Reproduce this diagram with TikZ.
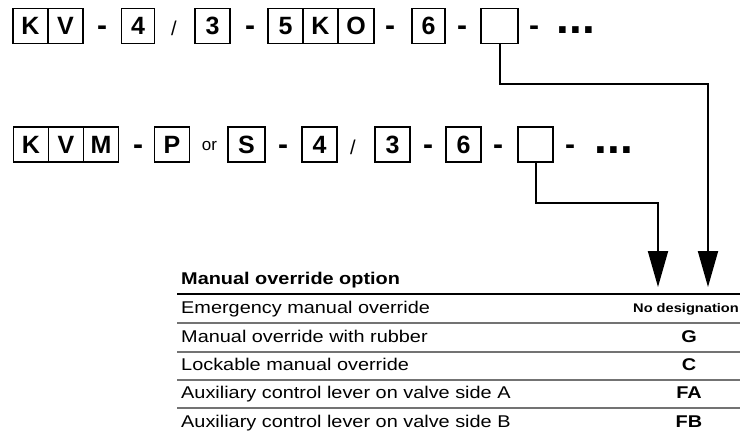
\documentclass[tikz,border=0pt]{standalone}
\usepackage{fontspec}
\setmainfont{Liberation Sans}
\newfontfamily\tabfont[FakeStretch=1.17]{Liberation Sans}
\usetikzlibrary{arrows.meta}
\begin{document}
\begin{tikzpicture}[x=1pt,y=-1pt,
  cell/.style={draw, line width=1.8pt, minimum width=35pt, minimum height=35pt, inner sep=0pt,
    font=\fontsize{25}{28}\selectfont\bfseries},
  hy/.style={anchor=base, inner sep=0pt, font=\fontsize{30}{32}\selectfont\bfseries},
  dots/.style={anchor=base, inner sep=0pt, font=\fontsize{46}{50}\selectfont\bfseries},
  slash/.style={anchor=base, inner sep=0pt, font=\fontsize{20}{22}\selectfont},
  small/.style={anchor=base, inner sep=0pt, font=\fontsize{17}{20}\selectfont},
  conn/.style={line width=2pt, line join=miter, -{Triangle[length=36pt,width=20pt]}},
  thead/.style={anchor=base west, inner sep=0pt, font=\tabfont\fontsize{17}{20}\selectfont\bfseries},
  trow/.style={anchor=base west, inner sep=0pt, font=\tabfont\fontsize{17}{20}\selectfont},
  tcode/.style={anchor=base, inner sep=0pt, font=\tabfont\fontsize{17}{20}\selectfont\bfseries},
  tcodes/.style={anchor=base, inner sep=0pt, font=\tabfont\fontsize{12.5}{15}\selectfont\bfseries},
  rule/.style={line width=2pt},
  grule/.style={line width=1.2pt, draw=black!55}
]
\fill[white] (0,0) rectangle (740,432);
\useasboundingbox (0,0) rectangle (740,432);

% ---------- Row 1 ----------
\node[cell] (a1) at (30.5,26) {K};
\node[cell] (a2) at (65.5,26) {V};
\node[hy] (ad1) at (102,35.5) {-};
\node[cell, minimum width=33pt] (a3) at (138,26) {4};
\node[slash] (as1) at (174,35) {/};
\node[cell] (a4) at (212.5,26) {3};
\node[hy] (ad2) at (250,35.5) {-};
\node[cell] (a5) at (285.5,26) {5};
\node[cell] (a6) at (320.5,26) {K};
\node[cell, minimum width=36pt] (a7) at (356,26) {O};
\node[hy] (ad3) at (390,35.5) {-};
\node[cell, minimum width=33pt] (a8) at (428.5,26) {6};
\node[hy] (ad4) at (462,35.5) {-};
\node[cell, minimum width=37pt] (e1) at (499.5,26) {};
\node[hy] (ad5) at (534,35.5) {-};
\node[dots] (adots) at (576,33.5) {...};

% ---------- Row 2 ----------
\node[cell] (b1) at (31,144.5) {K};
\node[cell] (b2) at (66,144.5) {V};
\node[cell] (b3) at (101,144.5) {M};
\node[hy] (bd1) at (138,154) {-};
\node[cell] (b4) at (172,144.5) {P};
\node[small] (bor) at (209.5,150.5) {or};
\node[cell, minimum width=37pt] (b5) at (246.5,144.5) {S};
\node[hy] (bd2) at (283,154) {-};
\node[cell] (b6) at (319.5,144.5) {4};
\node[slash] (bs1) at (353,154) {/};
\node[cell] (b7) at (392.5,144.5) {3};
\node[hy] (bd3) at (428,154) {-};
\node[cell] (b8) at (463.5,144.5) {6};
\node[hy] (bd4) at (498,154) {-};
\node[cell] (e2) at (535.5,144.5) {};
\node[hy] (bd5) at (570,154) {-};
\node[dots] (bdots) at (614,153) {...};

% ---------- Connectors ----------
\coordinate (c1) at (708,84);
\coordinate (t1) at (708,287);
\coordinate (c2) at (658,203);
\coordinate (t2) at (658,287);
\draw[conn] (e1.south) |- (c1) -- (t1);
\draw[conn] (e2.south) |- (c2) -- (t2);

% ---------- Table ----------
\node[thead] (th) at (181,284) {Manual override option};
\draw[rule] (177,294) -- (740,294);

\node[trow] (r1) at (181,313) {Emergency manual override};
\node[tcodes] (k1) at (686,312.5) {No designation};
\draw[grule] (177,323) -- (740,323);

\node[trow] (r2) at (181,342) {Manual override with rubber};
\node[tcode] (k2) at (689,342) {G};
\draw[grule] (177,352) -- (740,352);

\node[trow] (r3) at (181,370) {Lockable manual override};
\node[tcode] (k3) at (689,370) {C};
\draw[grule] (177,380) -- (740,380);

\node[trow] (r4) at (181,398) {Auxiliary control lever on valve side A};
\node[tcode] (k4) at (689,398) {FA};
\draw[grule] (177,408) -- (740,408);

\node[trow] (r5) at (181,427) {Auxiliary control lever on valve side B};
\node[tcode] (k5) at (689,427) {FB};
\end{tikzpicture}
\end{document}
